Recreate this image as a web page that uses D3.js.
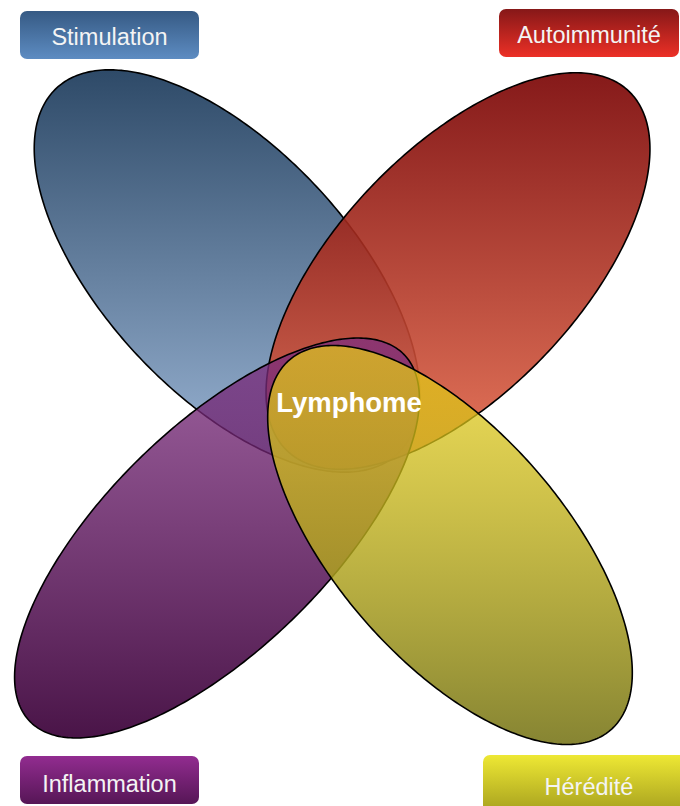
<!DOCTYPE html>
<html>
<head>
<meta charset="utf-8">
<script src="https://cdn.jsdelivr.net/npm/d3@7"></script>
<style>
  html, body { margin: 0; padding: 0; background: #ffffff; }
  svg { display: block; }
</style>
</head>
<body>
<div id="chart"></div>
<script>
// ---- data ----
const categories = ["Stimulation", "Autoimmunité", "Inflammation", "Hérédité"];
const centerLabel = "Lymphome";
const quadrantCol = ["left", "right", "left", "right"];
const quadrantRow = ["top", "top", "bottom", "bottom"];

// ---- layout / style ----
const W = 680, H = 806;
const ellipseGeom = [
  { cx: 227, cy: 271, a: 250, b: 123, rot: 47 },
  { cx: 458, cy: 271, a: 248, b: 121, rot: -46.5 },
  { cx: 217, cy: 538, a: 262, b: 111, rot: -44.5 },
  { cx: 450, cy: 545, a: 245, b: 114, rot: 49 }
];
// [top colour, top opacity, bottom colour, bottom opacity]
const ellipseColors = [
  ["#2e4a68", 1.0, "#9cb6d6", 1.0],
  ["#780000", 0.9, "#e5694a", 0.9],
  ["#7e2e80", 0.75, "#40083e", 0.95],
  ["#ebd214", 0.7, "#807e28", 0.95]
];
const boxColors = [
  ["#365a84", "#5d8cc2"],
  ["#861818", "#ec3026"],
  ["#922c90", "#561656"],
  ["#eee834", "#a6a01e"]
];
const boxGeom = [
  { x: 20, y: 11, w: 179, h: 48 },
  { x: 499, y: 9, w: 180, h: 48 },
  { x: 20, y: 756, w: 179, h: 48 },
  { x: 483, y: 755, w: 212, h: 58 }
];
const labelBaseline = [45, 43, 792, 795];

const svg = d3.select("#chart").append("svg")
  .attr("width", W).attr("height", H)
  .attr("viewBox", [0, 0, W, H]);

const defs = svg.append("defs");

function ellipsePoints(g) {
  const th = g.rot * Math.PI / 180;
  return d3.range(0, 360, 1).map(d => {
    const t = d * Math.PI / 180;
    const u = g.a * Math.cos(t), v = g.b * Math.sin(t);
    return [g.cx + u * Math.cos(th) - v * Math.sin(th),
            g.cy + u * Math.sin(th) + v * Math.cos(th)];
  });
}
const line = d3.line().curve(d3.curveLinearClosed);

categories.forEach((c, i) => {
  const pts = ellipsePoints(ellipseGeom[i]);
  const yExt = d3.extent(pts, p => p[1]);
  const col = ellipseColors[i];
  const gr = defs.append("linearGradient")
    .attr("id", "eg" + i)
    .attr("gradientUnits", "userSpaceOnUse")
    .attr("x1", 0).attr("x2", 0)
    .attr("y1", yExt[0]).attr("y2", yExt[1]);
  gr.append("stop").attr("offset", "0%").attr("stop-color", col[0]).attr("stop-opacity", col[1]);
  gr.append("stop").attr("offset", "100%").attr("stop-color", col[2]).attr("stop-opacity", col[3]);

  const bg = defs.append("linearGradient")
    .attr("id", "bg" + i)
    .attr("x1", 0).attr("x2", 0).attr("y1", 0).attr("y2", 1);
  bg.append("stop").attr("offset", "0%").attr("stop-color", boxColors[i][0]);
  bg.append("stop").attr("offset", "100%").attr("stop-color", boxColors[i][1]);
});

const gEll = svg.append("g");
gEll.selectAll("path")
  .data(categories)
  .join("path")
  .attr("d", (c, i) => line(ellipsePoints(ellipseGeom[i])))
  .attr("fill", (c, i) => `url(#eg${i})`)
  .attr("stroke", "#000")
  .attr("stroke-width", 1.6);

const gLab = svg.append("g");
const labs = gLab.selectAll("g")
  .data(categories)
  .join("g");
labs.append("rect")
  .attr("x", (c, i) => boxGeom[i].x)
  .attr("y", (c, i) => boxGeom[i].y)
  .attr("width", (c, i) => boxGeom[i].w)
  .attr("height", (c, i) => boxGeom[i].h)
  .attr("rx", 7).attr("ry", 7)
  .attr("fill", (c, i) => `url(#bg${i})`);
labs.append("text")
  .attr("x", (c, i) => quadrantCol[i] === "left" ? 109.5 : 589)
  .attr("y", (c, i) => labelBaseline[i])
  .attr("text-anchor", "middle")
  .attr("font-family", "'Liberation Sans', Arial, sans-serif")
  .attr("font-size", 23.5)
  .attr("fill", "#f4f4f4")
  .text(d => d);

svg.append("text")
  .attr("x", 349).attr("y", 412)
  .attr("text-anchor", "middle")
  .attr("font-family", "'Liberation Sans', Arial, sans-serif")
  .attr("font-weight", "bold")
  .attr("font-size", 27.5)
  .attr("fill", "#ffffff")
  .text(centerLabel);
</script>
</body>
</html>
